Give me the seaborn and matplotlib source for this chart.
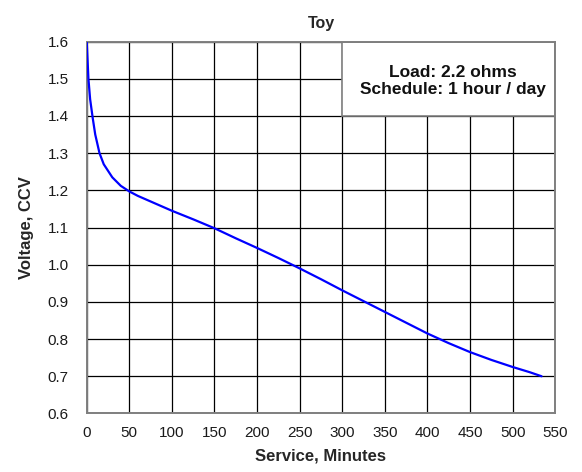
import matplotlib
matplotlib.use("Agg")
import matplotlib.pyplot as plt
import seaborn as sns
import pandas as pd

# service minutes vs closed circuit voltage
minutes = [0, 2, 4, 7, 10, 15, 20, 30, 40, 50, 60, 80, 100, 125, 150, 175, 200,
           225, 250, 275, 300, 325, 350, 375, 400, 425, 450, 475, 500, 520, 534]
voltage = [1.60, 1.50, 1.445, 1.395, 1.35, 1.30, 1.27, 1.235, 1.212, 1.197, 1.185,
           1.165, 1.145, 1.122, 1.098, 1.071, 1.045, 1.018, 0.990, 0.961, 0.931,
           0.902, 0.873, 0.844, 0.815, 0.789, 0.765, 0.744, 0.725, 0.711, 0.700]

x_ticks = list(range(0, 551, 50))
y_ticks = [0.6, 0.7, 0.8, 0.9, 1.0, 1.1, 1.2, 1.3, 1.4, 1.5, 1.6]
note_lines = ["Load: 2.2 ohms", "Schedule: 1 hour / day"]

sns.set_theme(style="white")
plt.rcParams["font.family"] = ["Liberation Sans", "DejaVu Sans"]

df = pd.DataFrame({"minutes": minutes, "voltage": voltage})

fig = plt.figure(figsize=(5.82, 4.72), dpi=100)
ax = fig.add_axes([0.149, 0.124, 0.805, 0.788])

sns.lineplot(data=df, x="minutes", y="voltage", color="#0000ff", linewidth=1.6,
             ax=ax, zorder=3)

ax.set_xlim(0, 550)
ax.set_ylim(0.6, 1.6)
ax.set_xticks(x_ticks)
ax.set_yticks(y_ticks)
ax.set_yticklabels([f"{v:.1f}" for v in y_ticks])
ax.grid(True, color="black", linewidth=0.9)
ax.set_axisbelow(True)
ax.tick_params(axis="both", length=0, labelsize=11, colors="#1a1a1a")
ax.tick_params(axis="y", pad=13)
ax.tick_params(axis="x", pad=9)

for s in ax.spines.values():
    s.set_color("#7f7f7f")
    s.set_linewidth(1.4)

# note box in the top right cell block
box = plt.Rectangle((300, 1.4), 250, 0.2, facecolor="white", edgecolor="#7f7f7f",
                    linewidth=1.2, zorder=2.5)
ax.add_patch(box)
ax.text(430, 1.4945, "\n".join(note_lines), ha="center", va="center", fontsize=12.5,
        fontweight="bold", color="#111111", linespacing=1.15, zorder=4)

ax.set_title("Toy", fontsize=11.5, fontweight="bold", pad=10)
ax.set_xlabel("Service, Minutes", fontsize=12, fontweight="bold", labelpad=6)
ax.set_ylabel("Voltage, CCV", fontsize=12, fontweight="bold", labelpad=10)

fig.savefig("out.png", dpi=100)
